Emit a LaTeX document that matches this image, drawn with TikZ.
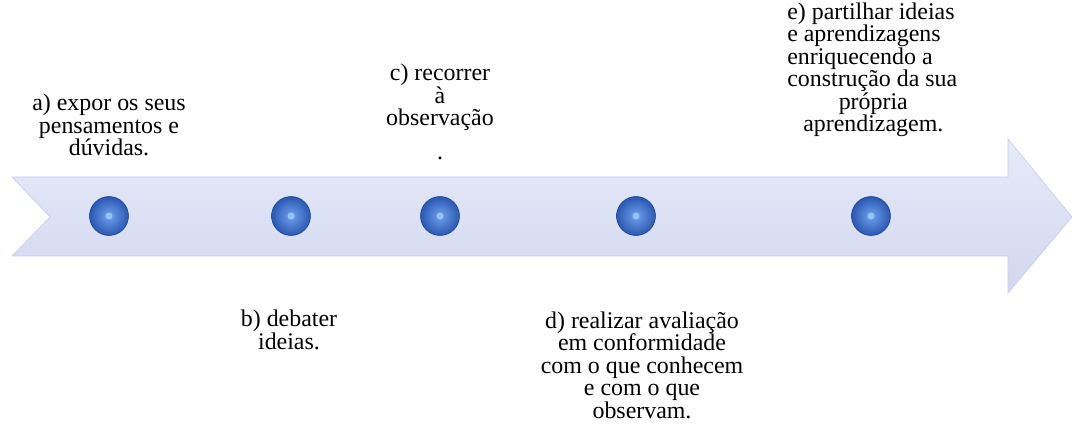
\documentclass[tikz,border=0pt]{standalone}
\usepackage{fontspec}
\setmainfont{Liberation Serif}
\usepackage{xcolor}

\definecolor{bandtop}{RGB}{231,234,249}
\definecolor{bandbot}{RGB}{209,215,239}
\definecolor{bandedge}{RGB}{198,205,231}
\definecolor{dotin}{RGB}{112,160,236}
\definecolor{dotout}{RGB}{42,88,178}
\definecolor{dotrim}{RGB}{36,66,140}
\definecolor{dotspot}{RGB}{150,195,245}

\tikzset{
  stage/.style={align=center, font=\fontsize{17}{16}\selectfont},
  bead/.style={circle, minimum size=0.975cm, inner sep=0pt, draw=dotrim, line width=0.4pt,
    shading=radial, inner color=dotin, outer color=dotout},
}

\begin{document}
\begin{tikzpicture}[x=0.025cm, y=-0.025cm]
\useasboundingbox (0,0) rectangle (1072,425);

\shade[top color=bandtop, bottom color=bandbot, draw=bandedge, line width=0.4pt]
  (12,177) -- (1008,177) -- (1008,139) -- (1072,217) -- (1008,293) -- (1008,256)
  -- (12,256) -- (50,217) -- cycle;

\foreach \n/\x in {A/109,B/291,C/440,D/636,E/871} {
  \node[bead] (dot\n) at (\x,216) {};
  \fill[dotspot] (dot\n.center) circle (2.5pt);
}

\node[stage] (labA) at (109,125) {a) expor os seus\\pensamentos e\\dúvidas.};
\node[stage] (labB) at (289,330) {b) debater\\ideias.};
\node[stage] (labC) at (440,112) {c) recorrer\\à\\observação\\[8pt].};
\node[stage] (labD) at (642,365) {d) realizar avaliação\\em conformidade\\com o que conhecem\\e com o que\\observam.};
\node[stage, align=flush left, text width=4.3cm, anchor=west, inner sep=0pt] (labE) at (787,70) {e) partilhar ideias\\
e aprendizagens\\
enriquecendo a\\
construção da sua\\
\makebox[\linewidth]{própria}\\
\makebox[\linewidth]{aprendizagem.}};
\end{tikzpicture}
\end{document}
